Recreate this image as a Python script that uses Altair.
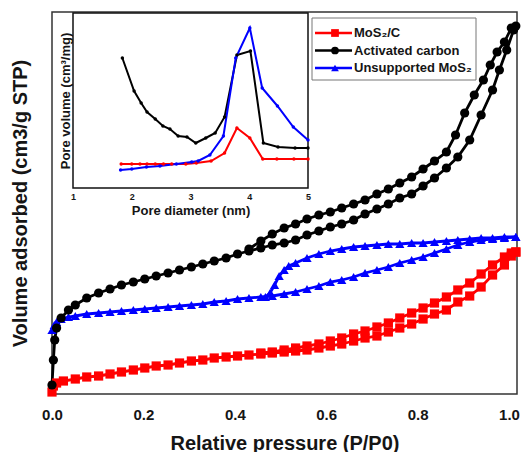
import altair as alt
import pandas as pd

SERIES = ["MoS₂/C", "Activated carbon", "Unsupported MoS₂"]
LEGEND_ROW = [0, 1, 2]
COLORS = ["#ff0000", "#000000", "#0000ff"]
SHAPES = ["square", "circle", "triangle-up"]
X_TICKS = [0.0, 0.2, 0.4, 0.6, 0.8, 1.0]
INSET_TICKS = [1, 2, 3, 4, 5]

# ---- main isotherms (relative pressure, volume adsorbed in arbitrary units) ----
AC_ADS_X = [0.0, 0.003, 0.006, 0.01, 0.02, 0.036, 0.051, 0.076, 0.102, 0.127, 0.152, 0.178, 0.203, 0.228, 0.254,
            0.279, 0.305, 0.33, 0.355, 0.381, 0.406, 0.431, 0.457, 0.482, 0.508, 0.533, 0.558, 0.584, 0.609, 0.634,
            0.66, 0.685, 0.711, 0.736, 0.761, 0.787, 0.812, 0.837, 0.863, 0.888, 0.914, 0.939, 0.964, 0.979, 0.995, 1.01]
AC_ADS_Y = [9, 34, 54, 66, 76, 84, 89, 96, 101, 105, 109, 112, 115, 118, 121,
            124, 127, 130, 133, 136, 140, 143, 146, 149, 151, 154, 159, 163, 167, 170,
            174, 180, 185, 190, 196, 200, 208, 216, 226, 237, 254, 279, 304, 324, 344, 364]
AC_DES_X = [1.015, 1.005, 0.99, 0.974, 0.959, 0.944, 0.924, 0.903, 0.883, 0.863, 0.837, 0.812, 0.787, 0.761, 0.736,
            0.711, 0.685, 0.66, 0.634, 0.609, 0.584, 0.558, 0.533, 0.508, 0.482, 0.457, 0.431]
AC_DES_Y = [368, 366, 352, 342, 329, 314, 299, 281, 259, 242, 233, 225, 217, 211, 205,
            200, 194, 190, 186, 182, 179, 175, 170, 166, 160, 153, 145]

MO_ADS_X = [0.0, 0.005, 0.01, 0.02, 0.036, 0.051, 0.076, 0.102, 0.127, 0.152, 0.178, 0.203, 0.228, 0.254, 0.279,
            0.305, 0.33, 0.355, 0.381, 0.406, 0.431, 0.457, 0.482, 0.508, 0.533, 0.558, 0.584, 0.609, 0.634, 0.66,
            0.685, 0.711, 0.736, 0.761, 0.787, 0.812, 0.837, 0.863, 0.888, 0.914, 0.939, 0.964, 0.99, 1.015]
MO_ADS_Y = [64, 69, 72, 75, 77, 78, 80, 81, 82, 83, 84, 85, 86, 87, 88,
            89, 90, 92, 93, 95, 96, 97, 98, 100, 102, 105, 108, 112, 114, 117,
            121, 124, 127, 131, 134, 137, 141, 145, 149, 152, 154, 155, 156, 157]
MO_DES_X = [1.015, 0.99, 0.964, 0.939, 0.914, 0.888, 0.863, 0.837, 0.812, 0.787, 0.761, 0.736, 0.711, 0.685, 0.66,
            0.634, 0.609, 0.584, 0.558, 0.533, 0.518, 0.508, 0.497, 0.487, 0.477, 0.467]
MO_DES_Y = [157, 157, 156, 156, 155, 154, 153, 152, 151, 151, 150, 150, 149, 148, 147,
            145, 143, 140, 136, 131, 128, 124, 118, 109, 101, 97]

RC_ADS_X = [0.0, 0.003, 0.01, 0.025, 0.051, 0.076, 0.102, 0.127, 0.152, 0.178, 0.203, 0.228, 0.254, 0.279, 0.305,
            0.33, 0.355, 0.381, 0.406, 0.431, 0.457, 0.482, 0.508, 0.533, 0.558, 0.584, 0.609, 0.634, 0.66, 0.685,
            0.711, 0.736, 0.761, 0.787, 0.812, 0.837, 0.863, 0.888, 0.914, 0.939, 0.964, 0.99, 1.005, 1.015]
RC_ADS_Y = [2, 8, 11, 13, 15, 17, 18, 20, 22, 24, 26, 28, 29, 31, 33,
            34, 36, 37, 38, 39, 40, 41, 42, 43, 44, 46, 48, 50, 53, 56,
            58, 62, 66, 70, 75, 80, 84, 92, 98, 107, 119, 129, 138, 142]
RC_DES_X = [1.015, 1.005, 0.99, 0.964, 0.939, 0.914, 0.888, 0.863, 0.837, 0.812, 0.787, 0.761, 0.736, 0.711, 0.685,
            0.66, 0.634, 0.609, 0.584, 0.558, 0.533, 0.508, 0.482, 0.457]
RC_DES_Y = [142, 141, 137, 129, 120, 111, 104, 97, 91, 86, 81, 76, 71, 67, 63,
            60, 56, 53, 50, 48, 46, 44, 42, 41]

# ---- inset: pore size distribution ----
IN_AC_X = [1.84, 2.04, 2.16, 2.26, 2.40, 2.53, 2.65, 2.79, 2.94, 3.09, 3.26, 3.42, 3.58, 3.79, 4.02, 4.24, 4.49, 4.78, 5.0]
IN_AC_Y = [130, 97, 85, 76, 69, 62, 59, 52, 51, 45, 50, 55, 71, 133, 137, 45, 41, 40, 40]
IN_RC_X = [1.82, 2.0, 2.14, 2.26, 2.40, 2.54, 2.68, 2.92, 3.1, 3.35, 3.58, 3.79, 4.01, 4.23, 4.47, 4.76, 5.0]
IN_RC_Y = [24, 24, 24, 24, 24, 24, 24, 24, 25, 27, 35, 60, 50, 29, 29, 29, 29]
IN_MO_X = [1.81, 2.0, 2.25, 2.48, 2.76, 3.02, 3.13, 3.33, 3.56, 3.77, 4.01, 4.22, 4.48, 4.75, 5.0]
IN_MO_Y = [18, 19, 21, 22, 24, 26, 27, 33, 52, 130, 160, 100, 82, 61, 48]

FONT = "Liberation Sans"
TXT = "#151515"


def build(parts):
    rows = []
    for series, branch, xs, ys in parts:
        for i, (x, y) in enumerate(zip(xs, ys)):
            rows.append({"series": series, "branch": series + branch, "idx": i, "x": x, "y": y})
    return pd.DataFrame(rows)


main_df = build([
    (SERIES[0], "a", RC_ADS_X, RC_ADS_Y), (SERIES[0], "d", RC_DES_X, RC_DES_Y),
    (SERIES[2], "a", MO_ADS_X, MO_ADS_Y), (SERIES[2], "d", MO_DES_X, MO_DES_Y),
    (SERIES[1], "a", AC_ADS_X, AC_ADS_Y), (SERIES[1], "d", AC_DES_X, AC_DES_Y),
])
inset_df = build([
    (SERIES[0], "i", IN_RC_X, IN_RC_Y),
    (SERIES[1], "i", IN_AC_X, IN_AC_Y),
    (SERIES[2], "i", IN_MO_X, IN_MO_Y),
])
leg_df = pd.DataFrame({"series": SERIES, "row": LEGEND_ROW})
one = pd.DataFrame({"k": [0]})

color = alt.Color("series:N", scale=alt.Scale(domain=SERIES, range=COLORS), legend=None)
shape = alt.Shape("series:N", scale=alt.Scale(domain=SERIES, range=SHAPES), legend=None)

# ---- main plot ----
xm = alt.X("x:Q", scale=alt.Scale(domain=[0, 1.0175], nice=False),
           axis=alt.Axis(values=X_TICKS, format=".1f", title="Relative pressure (P/P0)", orient="bottom",
                         grid=False, ticks=False, domain=False, labelFlush=False, labelFont=FONT,
                         labelFontSize=15, labelFontWeight="bold", labelColor=TXT, labelPadding=13,
                         titleFont=FONT, titleFontSize=20, titleFontWeight="bold", titleColor=TXT,
                         titlePadding=11))
ym = alt.Y("y:Q", scale=alt.Scale(domain=[0, 382], nice=False),
           axis=alt.Axis(title="Volume adsorbed (cm3/g STP)", orient="left", labels=False, ticks=False,
                         domain=False, grid=False, titleFont=FONT, titleFontSize=20, titleFontWeight="bold",
                         titleColor=TXT, titlePadding=22))

main_lines = alt.Chart(main_df).mark_line(strokeWidth=2.8).encode(
    x=xm, y=ym, color=color, detail="branch:N", order="idx:Q")
main_pts = alt.Chart(main_df).mark_point(filled=True, size=85, opacity=1).encode(
    x=xm, y=ym, color=color, shape=shape)
main = alt.layer(main_lines, main_pts)

# ---- inset ----
xi = alt.X("x:Q", scale=alt.Scale(domain=[1, 5], range=[21, 256], nice=False),
           axis=alt.Axis(values=INSET_TICKS, format="d", title="Pore diameter (nm)", orient="bottom",
                         offset=-206, grid=False, ticks=False, domain=False, labelFlush=False,
                         labelFont=FONT, labelFontSize=9, labelFontWeight="bold", labelColor=TXT,
                         labelPadding=4, titleFont=FONT, titleFontSize=13, titleFontWeight="bold",
                         titleColor=TXT, titlePadding=3))
yi = alt.Y("y:Q", scale=alt.Scale(domain=[0, 175], range=[176, 1], nice=False),
           axis=alt.Axis(title="Pore volume (cm³/mg)", orient="left", offset=-21, labels=False, ticks=False,
                         domain=False, grid=False, titleFont=FONT, titleFontSize=13, titleFontWeight="bold",
                         titleColor=TXT, titlePadding=1))

inset_frame = alt.Chart(one).mark_rect(fill="white", stroke="#111", strokeWidth=1.5).encode(
    x=alt.value(21), x2=alt.value(256), y=alt.value(1), y2=alt.value(176))
inset_lines = alt.Chart(inset_df).mark_line(strokeWidth=2).encode(
    x=xi, y=yi, color=color, order="idx:Q")
inset_pts = alt.Chart(inset_df).mark_point(filled=True, size=12, opacity=1, shape="circle").encode(
    x=xi, y=yi, color=color)
inset = alt.layer(inset_frame, inset_lines, inset_pts)

# ---- legend ----
ly = alt.Y("row:Q", scale=alt.Scale(domain=[0, 2], range=[21, 56], nice=False, zero=False), axis=None)
leg_box = alt.Chart(one).mark_rect(fill="white", stroke="#777", strokeWidth=1).encode(
    x=alt.value(260), x2=alt.value(424), y=alt.value(6), y2=alt.value(68))
leg_rule = alt.Chart(leg_df).mark_rule(strokeWidth=2.5).encode(
    y=ly, x=alt.value(263), x2=alt.value(300), color=color)
leg_pt = alt.Chart(leg_df).mark_point(filled=True, size=60, opacity=1).encode(
    y=ly, x=alt.value(283), color=color, shape=shape)
leg_txt = alt.Chart(leg_df).mark_text(align="left", baseline="middle", font=FONT, fontSize=13,
                                      fontWeight="bold", color=TXT).encode(
    y=ly, x=alt.value(302), text="series:N")
legend = alt.layer(leg_box, leg_rule, leg_pt, leg_txt)

chart = alt.layer(main, inset, legend).resolve_scale(
    x="independent", y="independent"
).properties(
    width=465, height=382, autosize="none",
    padding={"left": 44, "top": 4, "right": 6, "bottom": 58},
).configure_view(stroke="#333", strokeWidth=1.5)

chart.save("out.html", embed_options={"renderer": "svg", "actions": False})
